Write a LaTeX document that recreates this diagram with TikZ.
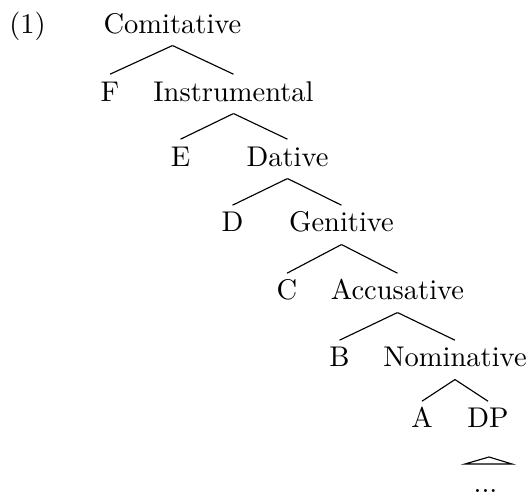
\documentclass[tikz,border=0pt]{standalone}
\begin{document}
\begin{tikzpicture}[x=0.3509pt,y=-0.3509pt,
  cat/.style={anchor=base,inner xsep=0pt,inner ysep=4.2pt,text height=5pt,text depth=0pt}]
\useasboundingbox (0,0) rectangle (530,498);

\node[cat] (ex) at (27.5,33) {(1)};
\node[cat] (com) at (172.5,33) {Comitative};
\node[cat] (f) at (110,101) {F};
\node[cat] (ins) at (233.5,101) {Instrumental};
\node[cat] (e) at (180.5,166) {E};
\node[cat] (dat) at (287.5,166) {Dative};
\node[cat] (d) at (232.5,232) {D};
\node[cat] (gen) at (341.5,232) {Genitive};
\node[cat] (c) at (287,300) {C};
\node[cat] (acc) at (397.5,300) {Accusative};
\node[cat] (b) at (339.5,367) {B};
\node[cat] (nom) at (455,367) {Nominative};
\node[cat] (a) at (422,428) {A};
\node[cat] (dp) at (488,428) {DP};
\node[cat] (dots) at (485.5,493) {...};

\draw (com.south) -- (f.north);
\draw (com.south) -- (ins.north);
\draw (ins.south) -- (e.north);
\draw (ins.south) -- (dat.north);
\draw (dat.south) -- (d.north);
\draw (dat.south) -- (gen.north);
\draw (gen.south) -- (c.north);
\draw (gen.south) -- (acc.north);
\draw (acc.south) -- (b.north);
\draw (acc.south) -- (nom.north);
\draw (nom.south) -- (a.north);
\draw (nom.south) -- (dp.north);

% roof over the DP
\draw (465,464) -- (489,457) -- (512,464) -- cycle;
\end{tikzpicture}
\end{document}
